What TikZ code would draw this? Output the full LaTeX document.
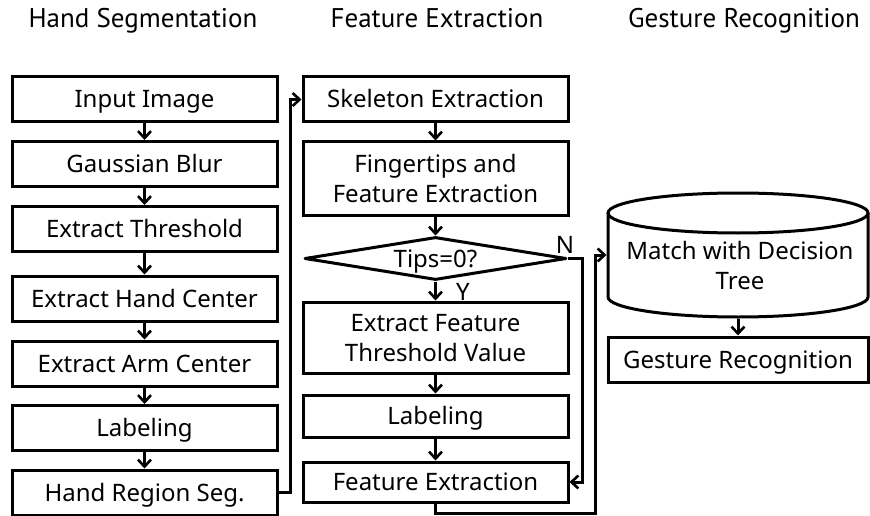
\documentclass[tikz,border=0pt]{standalone}
\usepackage{fontspec}
\setmainfont{Noto Sans}
\newfontfamily\headfont{PT Sans}
\usetikzlibrary{arrows.meta,shapes.geometric}
\begin{document}
\begin{tikzpicture}[x=1pt,y=-1pt,line width=3pt,
  txt/.style={font=\fontsize{24}{30}\selectfont, inner sep=0pt, text height=17pt, text depth=0pt, align=center},
  box/.style={txt, draw, rectangle, minimum width=265pt},
  twoline/.style={text height=47pt, text depth=0pt},
  dia/.style={txt, draw, diamond, shape aspect=6, minimum width=262pt, minimum height=43pt, line join=round},
  head/.style={font=\headfont\fontsize{27}{30}\selectfont, inner sep=0pt, anchor=base},
  arr/.style={-{Straight Barb[length=7pt,width=13pt,line width=2.6pt]}},
  lbl/.style={txt}]
\useasboundingbox (0,0) rectangle (870,516);

% headers
\node[head] (h1) at (143,28) {Hand Segmentation};
\node[head] (h2) at (437,28) {Feature Extraction};
\node[head] (h3) at (744,28) {Gesture Recognition};

% left column
\node[box, minimum height=45pt] (b1) at (144.5,99.5) {Input Image};
\node[box, minimum height=45pt] (b2) at (144.5,164) {Gaussian Blur};
\node[box, minimum height=45pt] (b3) at (144.5,229) {Extract Threshold};
\node[box, minimum height=45pt] (b4) at (144.5,298.5) {Extract Hand Center};
\node[box, minimum height=45pt] (b5) at (144.5,363.5) {Extract Arm Center};
\node[box, minimum height=45pt] (b6) at (144.5,428) {Labeling};
\node[box, minimum height=45pt] (b7) at (144.5,492.5) {Hand Region Seg.};

% middle column
\node[box, minimum height=45pt] (m1) at (435.5,99.5) {Skeleton Extraction};
\node[box, twoline, minimum height=73pt] (m2) at (435.5,178.5) {Fingertips and\\Feature Extraction};
\node[dia] (d) at (435.5,258.5) {Tips=0?};
\node[box, twoline, minimum height=71pt] (m3) at (435.5,337.5) {Extract Feature\\Threshold Value};
\node[box, minimum height=42pt] (m4) at (435.5,416) {Labeling};
\node[box, minimum height=40pt] (m5) at (435.5,482) {Feature Extraction};

\node[lbl] (ylab) at (463,292) {Y};
\node[lbl] (nlab) at (565,245) {N};

% right column
\node[minimum width=260pt, minimum height=124pt, inner sep=0pt] (match) at (738,255) {};
\draw (608,213) -- (608,297) arc[start angle=180, end angle=360, x radius=130pt, y radius=20pt] -- (868,213);
\draw (738,213) ellipse [x radius=130pt, y radius=20pt];
\node[txt, twoline] (matchtxt) at (740,266) {Match with Decision\\Tree};
\node[box, minimum width=260pt, minimum height=45pt] (g) at (738,359.5) {Gesture Recognition};

% connectors
\draw[arr] (b1) -- (b2);
\draw[arr] (b2) -- (b3);
\draw[arr] (b3) -- (b4);
\draw[arr] (b4) -- (b5);
\draw[arr] (b5) -- (b6);
\draw[arr] (b6) -- (b7);
\coordinate (c0) at (290,492.5);
\draw[arr] (b7.east) -- (c0) |- (m1.west);

\draw[arr] (m1) -- (m2);
\draw[arr] (m2) -- (d);
\draw[arr] (d) -- (m3);
\draw[arr] (m3) -- (m4);
\draw[arr] (m4) -- (m5);
\coordinate (c1) at (582,258.5);
\draw[arr] (d.east) -- (c1) |- (m5.east);
\coordinate (c2) at (595,513);
\draw[arr] (m5.south) |- (c2) |- (match.west);

\draw[arr] (match.south) -- (g.north);
\end{tikzpicture}
\end{document}
